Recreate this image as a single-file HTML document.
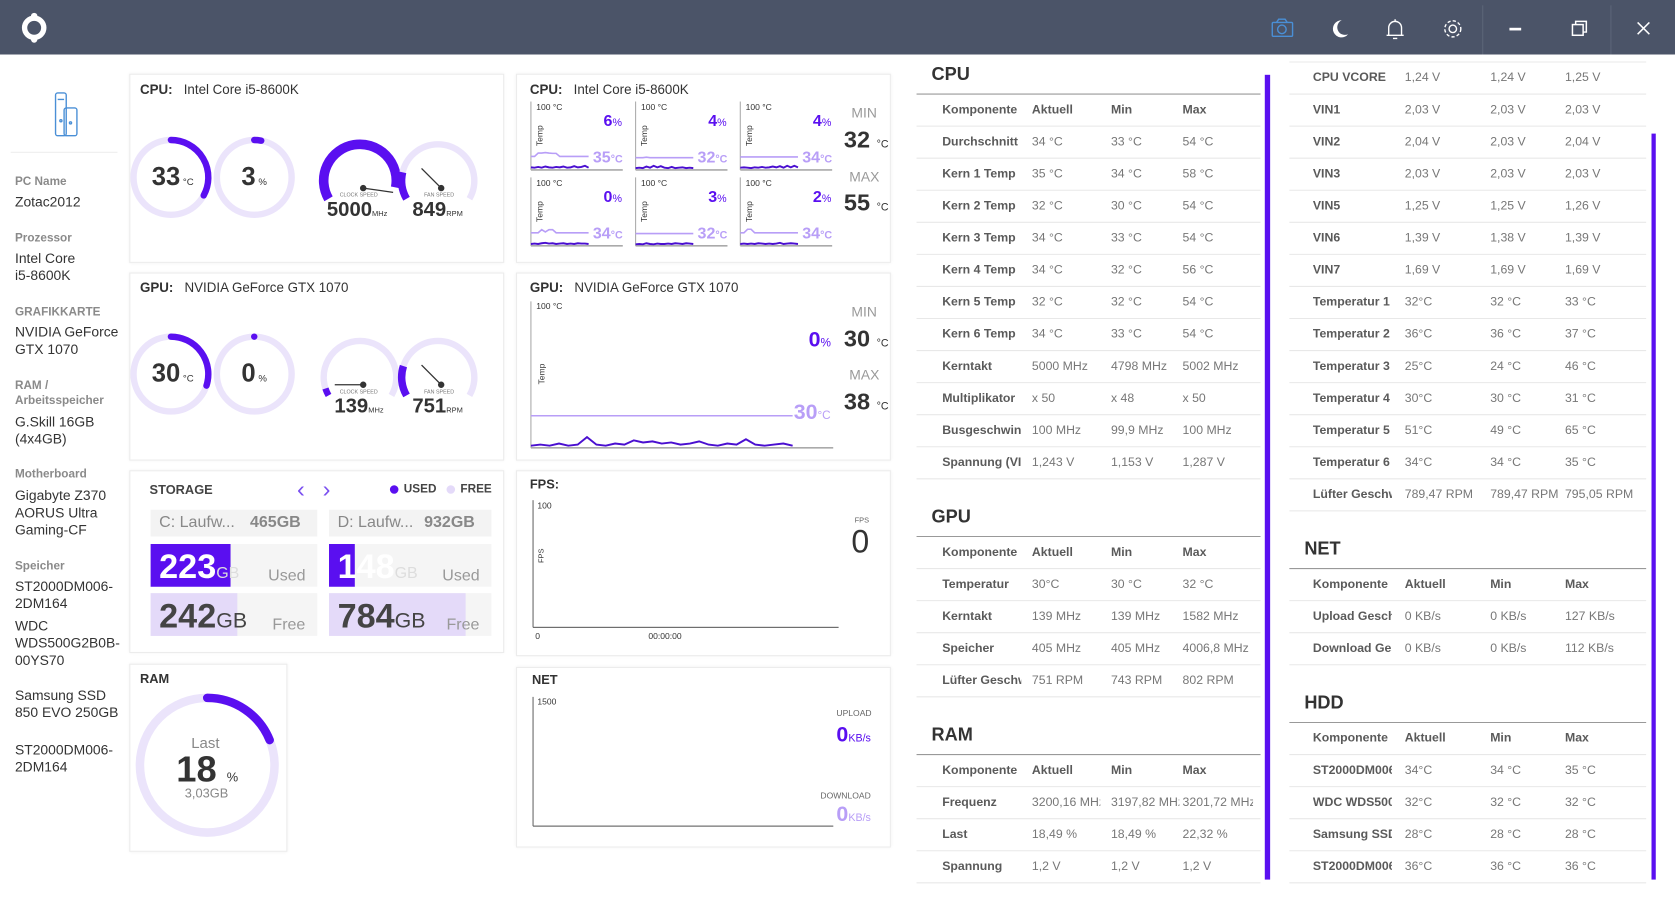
<!DOCTYPE html>
<html><head><meta charset="utf-8">
<style>
html,body{margin:0;padding:0;width:1675px;height:917px;overflow:hidden;background:#fff;font-family:"Liberation Sans",sans-serif;}
#root{position:absolute;left:0;top:0;width:1568px;height:858px;transform:scale(1.06824,1.06876);transform-origin:0 0;}
.a{position:absolute;white-space:nowrap;}
.card{position:absolute;background:#fff;border:1px solid #ececec;box-shadow:0 0 3px rgba(0,0,0,0.06);}
.lbl{color:#8a8a8a;font-weight:bold;font-size:11px;}
.val{color:#333;font-size:13px;}
</style></head>
<body>
<div id="root">
<div class="a" style="left:0;top:0;width:1568px;height:51px;background:#4b5468;"></div>
<svg class="a" style="left:0;top:0" width="1568" height="51">
  <g><circle cx="32" cy="26" r="9" fill="none" stroke="#fff" stroke-width="5"/><circle cx="32" cy="15" r="3" fill="#fff"/><circle cx="32" cy="37" r="3" fill="#fff"/></g>
  <g fill="none" stroke="#4a8fd6" stroke-width="1.3"><rect x="1191" y="21" width="19" height="13" rx="1"/><circle cx="1200" cy="27.5" r="4"/><path d="M1195 21 l2-3 h6 l2 3"/></g>
  <path d="M1256 19 a8 8 0 1 0 6 13 a7 7 0 0 1 -6 -13z" fill="#fff"/>
  <g fill="none" stroke="#fff" stroke-width="1.3"><path d="M1300 33 v-7 a6 6 0 0 1 12 0 v7 z M1298 33 h16 M1304 36 h4 M1306 18 v2"/></g>
  <g fill="none" stroke="#fff" stroke-width="1.3"><circle cx="1360" cy="27" r="3.5"/><circle cx="1360" cy="27" r="7.5" stroke-dasharray="3 2"/></g>
  <line x1="1388" y1="5" x2="1388" y2="51" stroke="#5c6578"/>
  <rect x="1413" y="26" width="11" height="2.5" fill="#fff"/>
  <g fill="none" stroke="#fff" stroke-width="1.4"><rect x="1472" y="23" width="10" height="10"/><path d="M1475 23 v-3 h10 v10 h-3"/></g>
  <line x1="1508" y1="5" x2="1508" y2="51" stroke="#5c6578"/>
  <g stroke="#fff" stroke-width="1.4"><line x1="1533" y1="21" x2="1544" y2="32"/><line x1="1544" y1="21" x2="1533" y2="32"/></g>
</svg>
<svg class="a" style="left:48px;top:83px" width="28" height="48" fill="none" stroke="#4a8fd6" stroke-width="1.3">
  <rect x="4" y="4" width="10" height="40" rx="2"/><rect x="12" y="18" width="12" height="26" rx="2"/><line x1="6" y1="10" x2="12" y2="10"/><circle cx="9" cy="30" r="1"/><circle cx="18" cy="32" r="1"/>
</svg>
<div class="a" style="left:10px;top:142px;width:100px;height:1px;background:#eee"></div>

<div class="card" style="left:121px;top:69px;width:349px;height:175px"></div>
<div class="card" style="left:483px;top:69px;width:349px;height:175px"></div>
<div class="card" style="left:121px;top:255px;width:349px;height:174px"></div>
<div class="card" style="left:483px;top:255px;width:349px;height:174px"></div>
<div class="card" style="left:121px;top:440px;width:349px;height:169px"></div>
<div class="card" style="left:483px;top:440px;width:349px;height:172px"></div>
<div class="card" style="left:121px;top:621px;width:146px;height:174px"></div>
<div class="card" style="left:483px;top:624px;width:349px;height:167px"></div>

<svg id="g" class="a" style="left:0;top:0" width="1568" height="858"></svg>

<div class="a" style="left:1184px;top:70px;width:5px;height:753px;background:#5a0ff0"></div>
<div class="a" style="left:1546px;top:125px;width:4px;height:698px;background:#5a0ff0"></div>
</div>

<script>
// ---------- data ----------
var coreLoadPct = [6, 4, 4, 0, 3, 2];
var coreTempC = [35, 32, 34, 34, 32, 34];
var coreTempHist = [
 [35,35,44,44,45,44,43,43,35,35,35,35,35,35,35,35,35],
 [32,32,32,33,32,32,32,32,32,32,32,32,32,32,32,32,32],
 [34,34,34,34,34,34,34,34,34,34,34,34,34,34,34,34,34],
 [34,34,34,42,36,42,42,34,34,34,34,34,34,34,34,34,34],
 [32,32,32,32,32,32,32,32,32,32,32,32,32,32,32,32,32],
 [34,34,43,43,34,34,34,34,34,34,34,34,34,34,34,34,34]
];
var coreLoadHist = [
 [4,3,5,3,6,4,3,5,4,6,3,4,7,4,5,8,3],
 [2,3,2,6,3,8,4,7,3,2,5,2,3,4,2,3,2],
 [3,4,3,2,4,3,5,3,4,6,4,7,3,8,4,8,4],
 [2,3,2,4,5,3,4,2,3,4,2,3,2,4,3,3,2],
 [1,2,1,4,2,1,3,2,2,3,2,4,3,2,4,3,2],
 [2,3,2,3,2,4,3,2,3,2,3,5,2,3,4,3,2]
];
var gpuTempHist = [30,30,30,30,30,30,30,30,30,30,30,30,30,30,30,30,30,30,30,30,30,30,30,30,30,30,30,30,30];
var gpuLoadHist = [0,1,0,2,0,1,8,1,0,2,1,5,3,4,2,3,1,2,4,1,0,2,1,6,1,0,1,2,0];
var fpsHist = [0,0,0,0,0,0];
var netUpHist = [0,0,0,0,0,0,0,0];
var cpuGauges = [33, 3];
var gpuGauges = [30, 0];
var ramLoad = [18];

// ---------- helpers ----------
var NS='http://www.w3.org/2000/svg', svg=document.getElementById('g'), root=document.getElementById('root');
function S(tag, attrs, name){var e=document.createElementNS(NS,tag);for(var k in attrs)e.setAttribute(k,attrs[k]);
 
 
 svg.appendChild(e);return e;}
function T(x,y,txt,css,name,inter){var d=document.createElement('div');d.className='a';d.style.cssText='left:'+x+'px;top:'+(y-10)+'px;line-height:20px;'+(css||'');d.innerHTML=txt;
 
 
 root.appendChild(d);return d;}
function pt(cx,cy,r,deg){var a=(deg-90)*Math.PI/180;return [cx+r*Math.cos(a),cy+r*Math.sin(a)];}
function arcD(cx,cy,r,a0,a1){var p=pt(cx,cy,r,a0),q=pt(cx,cy,r,a1);var l=(a1-a0)>180?1:0;return 'M'+p[0]+' '+p[1]+' A'+r+' '+r+' 0 '+l+' 1 '+q[0]+' '+q[1];}
function ring(cx,cy,r,v,name){S('circle',{cx:cx,cy:cy,r:r,fill:'none',stroke:'#ebe4fb','stroke-width':6},name+'-track');
 if(v>0){S('path',{d:arcD(cx,cy,r,0,Math.max(v,2.5)*3.6),fill:'none',stroke:'#5a0ff0','stroke-width':6,'stroke-linecap':'round'},name+'-arc');}
 else{S('circle',{cx:cx,cy:cy-r,r:3,fill:'#5a0ff0'},name+'-arc');}}
function meter(cx,cy,r,frac,w,name,trackW){S('path',{d:arcD(cx,cy,r,-120,120),fill:'none',stroke:'#ebe4fb','stroke-width':trackW},name+'-track');
 S('path',{d:arcD(cx,cy,r,-120,-120+240*frac),fill:'none',stroke:'#5a0ff0','stroke-width':w},name+'-arc');}
function needle(x1,y1,x2,y2,name){S('line',{x1:x1,y1:y1,x2:x2,y2:y2,stroke:'#333','stroke-width':1.2},name+'-needle');S('circle',{cx:x1,cy:y1,r:3,fill:'#333'},name+'-pivot');}
function line(xs,ys,name,col,w){var d='';for(var i=0;i<xs.length;i++)d+=(i?'L':'M')+xs[i].toFixed(1)+' '+ys[i].toFixed(1);S('path',{d:d,fill:'none',stroke:col,'stroke-width':w},name);}
function series(arr,x0,x1,yb,h,max){var xs=[],ys=[];for(var i=0;i<arr.length;i++){xs.push(x0+(x1-x0)*i/(arr.length-1));ys.push(yb-arr[i]/max*h);}return [xs,ys];}

// ---------- sidebar ----------
var side=[['PC Name',170,'lbl'],['Zotac2012',189,'val'],['Prozessor',223,'lbl'],['Intel Core',242,'val'],['i5-8600K',258,'val'],
['GRAFIKKARTE',292,'lbl'],['NVIDIA GeForce',311,'val'],['GTX 1070',327,'val'],['RAM /',361,'lbl'],['Arbeitsspeicher',375,'lbl'],
['G.Skill 16GB',395,'val'],['(4x4GB)',411,'val'],['Motherboard',444,'lbl'],['Gigabyte Z370',464,'val'],['AORUS Ultra',480,'val'],['Gaming-CF',496,'val'],
['Speicher',530,'lbl'],['ST2000DM006-',549,'val'],['2DM164',565,'val'],['WDC',586,'val'],['WDS500G2B0B-',602,'val'],['00YS70',618,'val'],
['Samsung SSD',651,'val'],['850 EVO 250GB',667,'val'],['ST2000DM006-',702,'val'],['2DM164',718,'val']];
side.forEach(function(s){var d=T(14,s[1],s[0],'',s[2]==='lbl'?'sidebar-label':'sidebar-value');d.classList.add(s[2]);});

// ---------- card titles ----------
var tc='font-size:12.5px;color:#333;';
T(131,84,'<b>CPU:</b>&nbsp;&nbsp; Intel Core i5-8600K',tc,'cpu-card-title');
T(496,84,'<b>CPU:</b>&nbsp;&nbsp; Intel Core i5-8600K',tc,'cpu-cores-title');
T(131,269,'<b>GPU:</b>&nbsp;&nbsp; NVIDIA GeForce GTX 1070',tc,'gpu-card-title');
T(496,269,'<b>GPU:</b>&nbsp;&nbsp; NVIDIA GeForce GTX 1070',tc,'gpu-chart-title');
T(140,458,'<b>STORAGE</b>','font-size:12px;color:#444;','storage-title');
T(496,453,'<b>FPS:</b>','font-size:12px;color:#333;','fps-title');
T(131,635,'<b>RAM</b>','font-size:12px;color:#333;','ram-title');
T(498,636,'<b>NET</b>','font-size:12px;color:#333;','net-title');

// ---------- gauges ----------
var big='font-size:24px;color:#333;font-weight:bold;';
function gaugeSet(y,vals,pfx,clk,clkFrac,fan,fanFrac){
 ring(160,y,35,vals[0],pfx+'-temp-gauge');ring(238,y,35,vals[1],pfx+'-load-gauge');
 T(142,y,vals[0]+'<span style="font-size:9px;font-weight:normal"> °C</span>',big,pfx+'-temp-value');
 T(226,y,vals[1]+'<span style="font-size:9px;font-weight:normal"> %</span>',big,pfx+'-load-value');
 meter(337,y+3,34,clkFrac,clkFrac>0.5?9:6,pfx+'-clock-gauge',clkFrac>0.5?0:6);
 meter(410,y+3,34,fanFrac,7,pfx+'-fan-gauge',6);
 var na=-120+240*clkFrac;var p=pt(340,y+10,28,na+(clkFrac>0.5?-10:0));
 needle(340,y+10,p[0],y+14+(clkFrac>0.5?0:-4),pfx+'-clock');
 var q=pt(413,y+10,26,-45);needle(413,y+10,q[0],q[1],pfx+'-fan');
 T(318,y+17,'CLOCK SPEED','font-size:5px;color:#777;',pfx+'-clock-label');
 T(397,y+17,'FAN SPEED','font-size:5px;color:#777;',pfx+'-fan-label');
 T(clk.length>3?306:313,y+31,clk+'<span style="font-size:7px;font-weight:normal">MHz</span>','font-size:19px;font-weight:bold;color:#333;',pfx+'-clock-value');
 T(386,y+31,fan+'<span style="font-size:7px;font-weight:normal">RPM</span>','font-size:19px;font-weight:bold;color:#333;',pfx+'-fan-value');
}
gaugeSet(166,cpuGauges,'cpu','5000',0.92,'849',0.18);
gaugeSet(350,gpuGauges,'gpu','139',0.05,'751',0.2);

// ---------- core mini charts ----------
for(var i=0;i<6;i++){
 var c=i%3,r=Math.floor(i/3),x0=497+c*98,y0=95+r*71,yb=y0+64;
 S('line',{x1:x0,y1:y0,x2:x0,y2:yb,stroke:'#aaa'},'core-y-axis');
 S('line',{x1:x0,y1:yb,x2:x0+86,y2:yb,stroke:'#aaa','stroke-width':1.5},'core-x-axis');
 var st=series(coreTempHist[i],x0,x0+54,yb,36,100);line(st[0],st[1],'core-temp-line-'+(i+1),'#b89ef7',1.5);
 var sl=series(coreLoadHist[i],x0,x0+54,yb-1,36,100);line(sl[0],sl[1],'core-load-line-'+(i+1),'#4a0fd0',1.8);
 T(x0+5,y0+6,'100 °C','font-size:8px;color:#333;','core-max-label');
 T(x0-1,y0+32,'Temp','font-size:8px;color:#333;transform:rotate(-90deg);','core-axis-title');
 T(x0+68,y0+19,'<b>'+coreLoadPct[i]+'</b><span style="font-size:10px">%</span>','font-size:15px;color:#5a0ff0;','core-load-value-'+(i+1));
 T(x0+58,y0+53,coreTempC[i]+'<span style="font-size:10px">°C</span>','font-size:15px;color:#b89ef7;font-weight:bold;','core-temp-value-'+(i+1));
}
var mm='font-size:13px;color:#999;',mv='font-size:22px;font-weight:bold;color:#333;';
T(797,106,'MIN',mm,'cpu-min-label');T(790,131,'32 <span style="font-size:10px;font-weight:normal">°C</span>',mv,'cpu-min-value');
T(795,166,'MAX',mm,'cpu-max-label');T(790,190,'55 <span style="font-size:10px;font-weight:normal">°C</span>',mv,'cpu-max-value');

// ---------- GPU temp chart ----------
S('line',{x1:497,y1:282,x2:497,y2:419,stroke:'#aaa'},'gpu-y-axis');
S('line',{x1:497,y1:419,x2:780,y2:419,stroke:'#aaa','stroke-width':1.5},'gpu-x-axis');
var gt=series(gpuTempHist,497,742,419,100,100);line(gt[0],gt[1],'gpu-temp-line','#b89ef7',1.5);
var gl=series(gpuLoadHist,497,742,417,100,100);line(gl[0],gl[1],'gpu-load-line','#4a0fd0',1.8);
T(502,287,'100 °C','font-size:8px;color:#333;','gpu-max-label');
T(498,350,'Temp','font-size:8px;color:#333;transform:rotate(-90deg);','gpu-axis-title');
T(757,318,'<b>0</b><span style="font-size:11px">%</span>','font-size:20px;color:#5a0ff0;','gpu-load-value');
T(743,386,'<b>30</b><span style="font-size:11px">°C</span>','font-size:20px;color:#b89ef7;','gpu-temp-value');
T(797,292,'MIN',mm,'gpu-min-label');T(790,317,'30 <span style="font-size:10px;font-weight:normal">°C</span>',mv,'gpu-min-value');
T(795,351,'MAX',mm,'gpu-max-label');T(790,376,'38 <span style="font-size:10px;font-weight:normal">°C</span>',mv,'gpu-max-value');

// ---------- FPS ----------
var fs=series(fpsHist,499,785,587,113,100);line(fs[0],fs[1],'fps-line','#888',1);
S('line',{x1:499,y1:468,x2:499,y2:587,stroke:'#666'},'fps-y-axis');
S('line',{x1:499,y1:587,x2:785,y2:587,stroke:'#666'},'fps-x-axis');
T(503,474,'100','font-size:8px;color:#333;','fps-tick-max');
T(501,596,'0','font-size:8px;color:#333;','fps-tick-zero');
T(607,596,'00:00:00','font-size:8px;color:#333;','fps-time-tick');
T(501,520,'FPS','font-size:7px;color:#333;transform:rotate(-90deg);','fps-axis-title');
T(800,488,'FPS','font-size:7px;color:#666;','fps-unit');
T(797,508,'0','font-size:30px;color:#333;','fps-value');

// ---------- NET ----------
var nu=series(netUpHist,499,780,773,118,1500);line(nu[0],nu[1],'net-upload-line','#888',1);
S('line',{x1:499,y1:652,x2:499,y2:773,stroke:'#666'},'net-y-axis');
S('line',{x1:499,y1:773,x2:780,y2:773,stroke:'#666'},'net-x-axis');
T(503,657,'1500','font-size:8px;color:#333;','net-tick-max');
T(783,668,'UPLOAD','font-size:8px;color:#666;','net-upload-label');
T(783,688,'<b>0</b><span style="font-size:10px">KB/s</span>','font-size:20px;color:#5a0ff0;','net-upload-value');
T(768,745,'DOWNLOAD','font-size:8px;color:#666;','net-download-label');
T(783,762,'<b>0</b><span style="font-size:10px">KB/s</span>','font-size:20px;color:#b89ef7;','net-download-value');

// ---------- RAM ----------
S('circle',{cx:194,cy:716,r:63,fill:'none',stroke:'#ebe4fb','stroke-width':8},'ram-gauge-track');
S('path',{d:arcD(194,716,63,0,ramLoad[0]*3.6*1.05),fill:'none',stroke:'#5a0ff0','stroke-width':8,'stroke-linecap':'round'},'ram-gauge-arc');
T(179,695,'Last','font-size:14px;color:#888;','ram-last-label');
T(165,720,'<b>'+ramLoad[0]+'</b> <span style="font-size:12px">%</span>','font-size:34px;color:#333;','ram-load-value');
T(173,742,'3,03GB','font-size:12px;color:#888;','ram-used-value');

// ---------- storage ----------
T(278,458,'&#8249;','font-size:22px;color:#7a4ff0;','storage-prev-button',1);
T(302,458,'&#8250;','font-size:22px;color:#7a4ff0;','storage-next-button',1);
S('circle',{cx:369,cy:458,r:4,fill:'#5a0ff0'},'legend-used-dot');T(378,458,'<b>USED</b>','font-size:11px;color:#444;','legend-used');
S('circle',{cx:422,cy:458,r:4,fill:'#e4daf9'},'legend-free-dot');T(431,458,'<b>FREE</b>','font-size:11px;color:#444;','legend-free');
var drives=[{x:141,w:156,name:'C: Laufw...',tot:465,used:223,free:242},{x:308,w:152,name:'D: Laufw...',tot:932,used:148,free:784}];
drives.forEach(function(d,k){
 S('rect',{x:d.x,y:477,width:d.w,height:25,fill:'#f3f3f3'},'drive-header-'+k);
 T(d.x+8,489,d.name,'font-size:15px;color:#888;','drive-name');
 T(d.x+d.w-63,489,'<b>'+d.tot+'GB</b>','font-size:15px;color:#888;','drive-total');
 S('rect',{x:d.x,y:509,width:d.w,height:40,fill:'#f5f5f5'},'drive-used-bg');
 S('rect',{x:d.x,y:509,width:d.w*d.used/d.tot,height:40,fill:'#5a0ff0'},'drive-used-bar');
 S('rect',{x:d.x,y:555,width:d.w,height:40,fill:'#f5f5f5'},'drive-free-bg');
 S('rect',{x:d.x,y:555,width:d.w*d.free/d.tot,height:40,fill:'#e4daf9'},'drive-free-bar');
 T(d.x+8,530,'<b>'+d.used+'</b><span style="font-size:15px;color:#ddd">GB</span>','font-size:32px;color:#fff;','drive-used-value');
 T(d.x+d.w-46,539,'Used','font-size:15px;color:#999;','drive-used-label');
 T(d.x+8,576,'<b>'+d.free+'</b><span style="font-size:20px">GB</span>','font-size:32px;color:#444;','drive-free-value');
 T(d.x+d.w-42,585,'Free','font-size:15px;color:#999;','drive-free-label');
});

// ---------- tables ----------
var hdr=['Komponente','Aktuell','Min','Max'];
function table(x0,x1,title,titleY,rows,y0,cols,name){
 if(title){T(x0+14,titleY,'<b>'+title+'</b>','font-size:17px;color:#333;',name+'-title');
  S('line',{x1:x0,y1:titleY+18,x2:x1,y2:titleY+18,stroke:'#999'},name+'-title-rule');}
 rows.forEach(function(rw,i){var y=y0+i*30;
  rw.forEach(function(v,j){var bold=(j==0||i==0&&title);var d=T(x0+cols[j],y,v,'font-size:11.5px;overflow:hidden;width:'+(j==0?74:(j==3?66:64))+'px;'+(bold?'font-weight:bold;color:#5a5a5a;':'color:#777;'),name+'-cell');});
  S('line',{x1:x0,y1:y+15,x2:x1,y2:y+15,stroke:'#e8e8e8'},name+'-row-rule');});
}
var c1=[24,108,182,249];
var cpuRows=[hdr,['Durchschnitt','34 °C','33 °C','54 °C'],['Kern 1 Temp','35 °C','34 °C','58 °C'],['Kern 2 Temp','32 °C','30 °C','54 °C'],['Kern 3 Temp','34 °C','33 °C','54 °C'],['Kern 4 Temp','34 °C','32 °C','56 °C'],['Kern 5 Temp','32 °C','32 °C','54 °C'],['Kern 6 Temp','34 °C','33 °C','54 °C'],['Kerntakt','5000 MHz','4798 MHz','5002 MHz'],['Multiplikator','x 50','x 48','x 50'],['Busgeschwindigkeit','100 MHz','99,9 MHz','100 MHz'],['Spannung (VID)','1,243 V','1,153 V','1,287 V']];
table(858,1180,'CPU',70,cpuRows,103,c1,'cpu-table');
var gpuRows=[hdr,['Temperatur','30°C','30 °C','32 °C'],['Kerntakt','139 MHz','139 MHz','1582 MHz'],['Speicher','405 MHz','405 MHz','4006,8 MHz'],['Lüfter Geschwindigkeit','751 RPM','743 RPM','802 RPM']];
table(858,1180,'GPU',484,gpuRows,517,c1,'gpu-table');
var ramRows=[hdr,['Frequenz','3200,16 MHz','3197,82 MHz','3201,72 MHz'],['Last','18,49 %','18,49 %','22,32 %'],['Spannung','1,2 V','1,2 V','1,2 V']];
table(858,1180,'RAM',688,ramRows,721,c1,'ram-table');
var c2=[22,108,188,258];
S('line',{x1:1207,y1:58,x2:1541,y2:58,stroke:'#e8e8e8'},'sensor-top-rule');
var sensRows=[['CPU VCORE','1,24 V','1,24 V','1,25 V'],['VIN1','2,03 V','2,03 V','2,03 V'],['VIN2','2,04 V','2,03 V','2,04 V'],['VIN3','2,03 V','2,03 V','2,03 V'],['VIN5','1,25 V','1,25 V','1,26 V'],['VIN6','1,39 V','1,38 V','1,39 V'],['VIN7','1,69 V','1,69 V','1,69 V'],['Temperatur 1','32°C','32 °C','33 °C'],['Temperatur 2','36°C','36 °C','37 °C'],['Temperatur 3','25°C','24 °C','46 °C'],['Temperatur 4','30°C','30 °C','31 °C'],['Temperatur 5','51°C','49 °C','65 °C'],['Temperatur 6','34°C','34 °C','35 °C'],['Lüfter Geschwindigkeit','789,47 RPM','789,47 RPM','795,05 RPM']];
table(1207,1541,null,0,sensRows,73,c2,'sensor-table');
var netRows=[hdr,['Upload Geschwindigkeit','0 KB/s','0 KB/s','127 KB/s'],['Download Geschwindigkeit','0 KB/s','0 KB/s','112 KB/s']];
table(1207,1541,'NET',514,netRows,547,c2,'net-table');
var hddRows=[hdr,['ST2000DM006','34°C','34 °C','35 °C'],['WDC WDS500G2','32°C','32 °C','32 °C'],['Samsung SSD','28°C','28 °C','28 °C'],['ST2000DM006','36°C','36 °C','36 °C']];
table(1207,1541,'HDD',658,hddRows,691,c2,'hdd-table');
</script>
</body></html>
